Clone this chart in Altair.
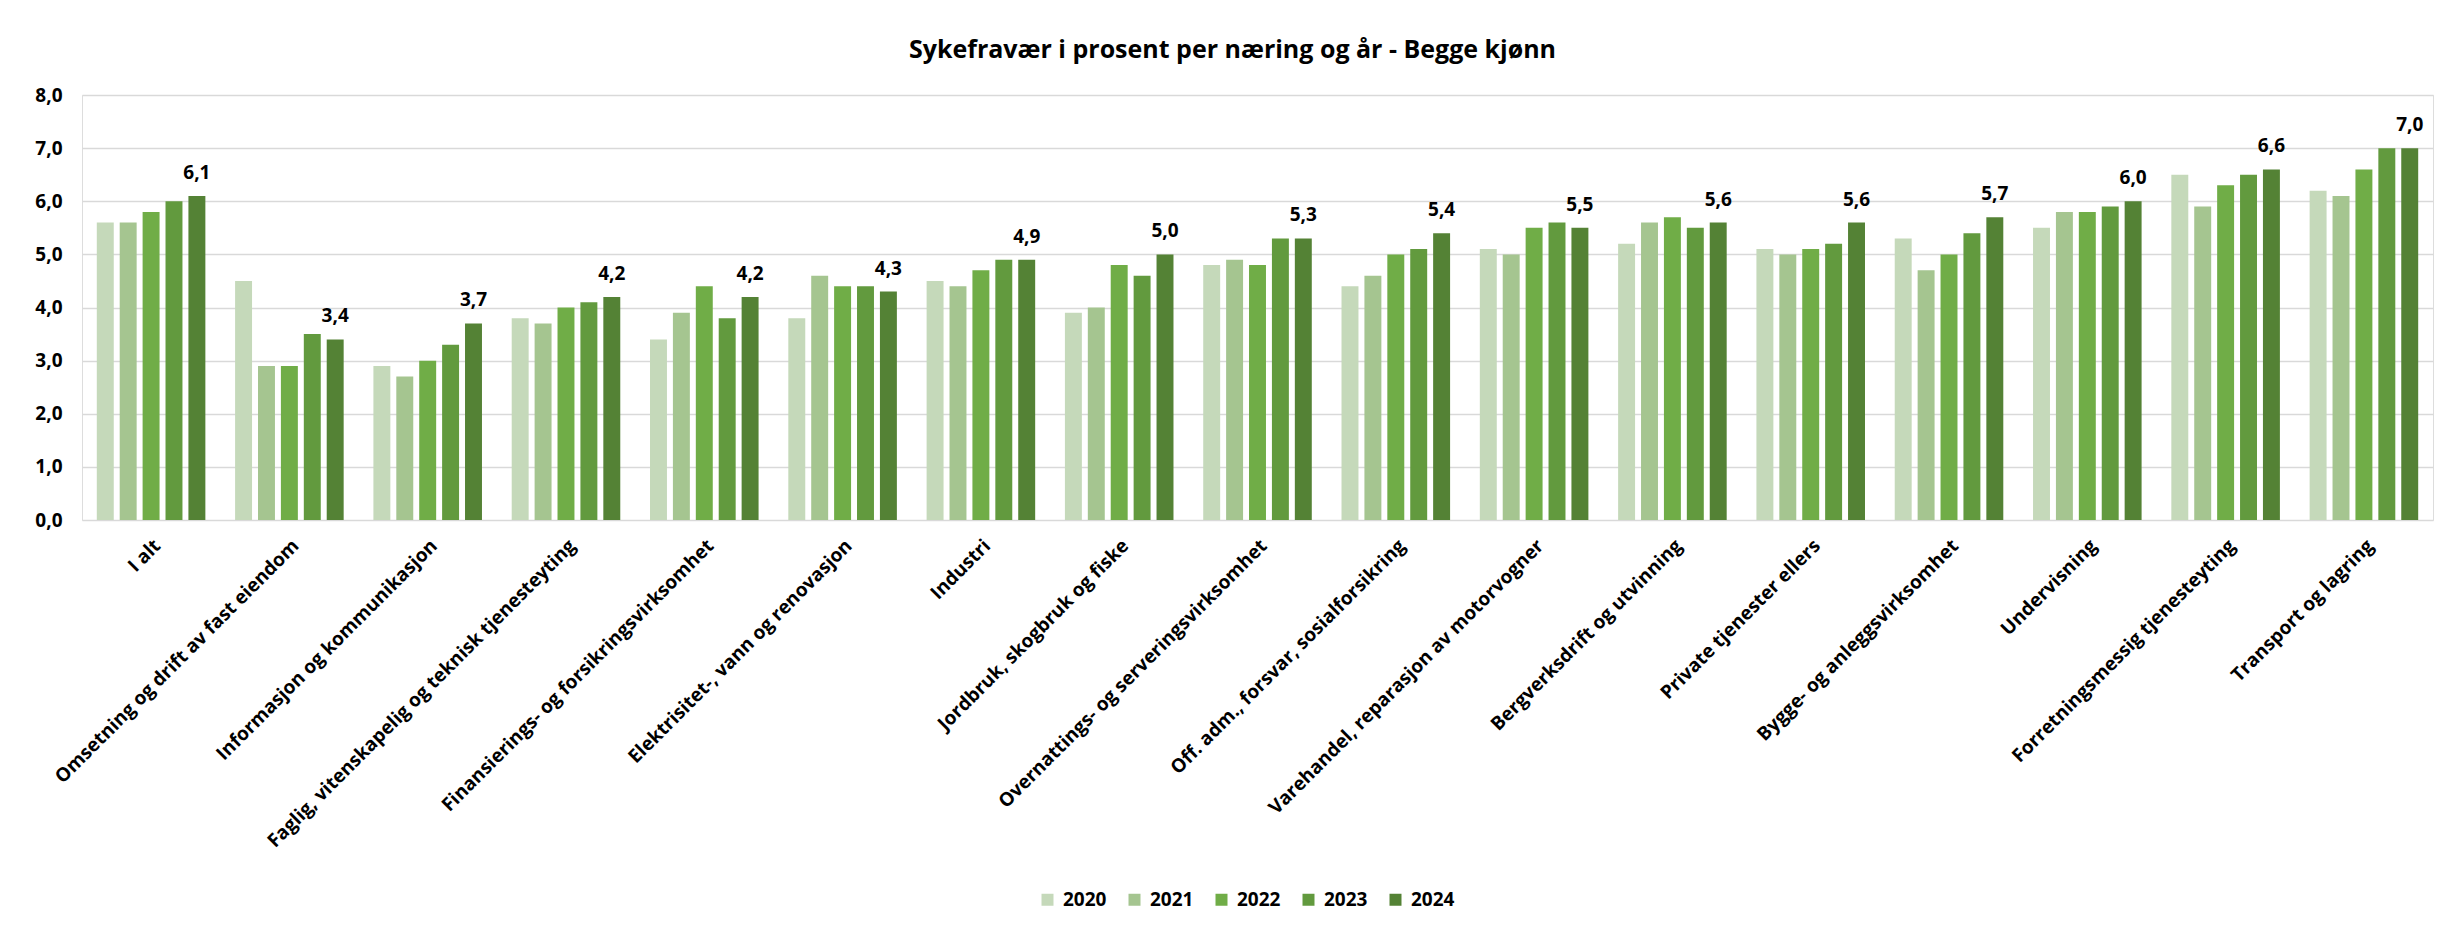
import altair as alt
import pandas as pd

categories = [
    "I alt",
    "Omsetning og drift av fast eiendom",
    "Informasjon og kommunikasjon",
    "Faglig, vitenskapelig og teknisk tjenesteyting",
    "Finansierings- og forsikringsvirksomhet",
    "Elektrisitet-, vann og renovasjon",
    "Industri",
    "Jordbruk, skogbruk og fiske",
    "Overnattings- og serveringsvirksomhet",
    "Off. adm., forsvar, sosialforsikring",
    "Varehandel, reparasjon av motorvogner",
    "Bergverksdrift og utvinning",
    "Private tjenester ellers",
    "Bygge- og anleggsvirksomhet",
    "Undervisning",
    "Forretningsmessig tjenesteyting",
    "Transport og lagring",
]
years = ["2020", "2021", "2022", "2023", "2024"]
v2020 = [5.6, 4.5, 2.9, 3.8, 3.4, 3.8, 4.5, 3.9, 4.8, 4.4, 5.1, 5.2, 5.1, 5.3, 5.5, 6.5, 6.2]
v2021 = [5.6, 2.9, 2.7, 3.7, 3.9, 4.6, 4.4, 4.0, 4.9, 4.6, 5.0, 5.6, 5.0, 4.7, 5.8, 5.9, 6.1]
v2022 = [5.8, 2.9, 3.0, 4.0, 4.4, 4.4, 4.7, 4.8, 4.8, 5.0, 5.5, 5.7, 5.1, 5.0, 5.8, 6.3, 6.6]
v2023 = [6.0, 3.5, 3.3, 4.1, 3.8, 4.4, 4.9, 4.6, 5.3, 5.1, 5.6, 5.5, 5.2, 5.4, 5.9, 6.5, 7.0]
v2024 = [6.1, 3.4, 3.7, 4.2, 4.2, 4.3, 4.9, 5.0, 5.3, 5.4, 5.5, 5.6, 5.6, 5.7, 6.0, 6.6, 7.0]
colors = ["#C5D9BA", "#A5C590", "#70AD47", "#629A3E", "#548235"]

series = [v2020, v2021, v2022, v2023, v2024]
rows = []
for i, c in enumerate(categories):
    for y, vals in zip(years, series):
        rows.append({"naering": c, "aar": y, "verdi": vals[i]})
df = pd.DataFrame(rows)

FONT = "Open Sans"

base = alt.Chart(df).encode(
    x=alt.X(
        "naering:N",
        sort=categories,
        scale=alt.Scale(paddingInner=0.215, paddingOuter=0.107),
        axis=alt.Axis(
            title=None,
            labelAngle=-45,
            labelAlign="right",
            labelBaseline="top",
            labelFontSize=19,
            labelFontWeight="bold",
            labelFont=FONT,
            labelColor="#000000",
            labelPadding=16,
            labelLimit=600,
            domain=False,
            ticks=False,
            grid=False,
        ),
    ),
    xOffset=alt.XOffset("aar:N", sort=years, scale=alt.Scale(paddingInner=0.26, paddingOuter=0)),
    y=alt.Y(
        "verdi:Q",
        scale=alt.Scale(domain=[0, 8], nice=False),
        axis=alt.Axis(
            title=None,
            values=[0, 1, 2, 3, 4, 5, 6, 7, 8],
            labelExpr="replace(format(datum.value, '.1f'), '.', ',')",
            labelFontSize=19,
            labelFontWeight="bold",
            labelFont=FONT,
            labelColor="#000000",
            labelPadding=20,
            domain=False,
            ticks=False,
            grid=True,
            gridColor="#D9D9D9",
            gridWidth=1.6,
        ),
    ),
)

bars = base.mark_bar().encode(
    color=alt.Color(
        "aar:N",
        sort=years,
        scale=alt.Scale(domain=years, range=colors),
        legend=alt.Legend(
            title=None,
            orient="none",
            legendX=956,
            legendY=795,
            direction="horizontal",
            columns=5,
            symbolType="square",
            symbolSize=144,
            symbolStrokeWidth=0,
            labelFontSize=19,
            labelFontWeight="bold",
            labelFont=FONT,
            labelColor="#000000",
            labelOffset=6,
            columnPadding=18,
        ),
    )
)

labels = (
    base.transform_filter(alt.datum.aar == "2024")
    .transform_calculate(lbl="replace(format(datum.verdi, '.1f'), '.', ',')")
    .mark_text(
        baseline="bottom",
        dy=-13,
        fontSize=19,
        fontWeight="bold",
        font=FONT,
        color="#000000",
    )
    .encode(text="lbl:N")
)

chart = (
    alt.layer(bars, labels)
    .properties(
        width=2351,
        height=425,
        autosize=alt.AutoSizeParams(type="none"),
        padding={"left": 74, "top": 87, "right": 15, "bottom": 400},
        title=alt.TitleParams(
            "Sykefravær i prosent per næring og år - Begge kjønn",
            fontSize=25,
            fontWeight="bold",
            font=FONT,
            color="#000000",
            anchor="middle",
            baseline="bottom",
            dx=-25,
            dy=12,
            offset=10,
        ),
    )
    .configure_view(stroke=None)
    .configure(background="#FFFFFF")
)

chart.save("out.html", embed_options={"renderer": "svg", "actions": False})
